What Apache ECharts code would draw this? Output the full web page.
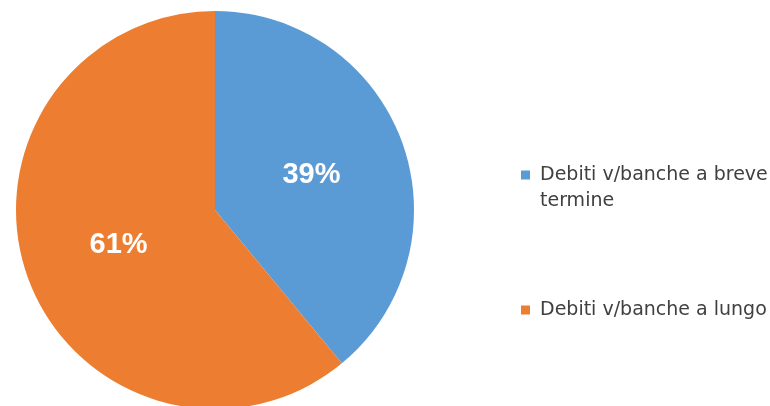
<!DOCTYPE html>
<html>
<head>
<meta charset="utf-8">
<style>html,body{margin:0;padding:0;background:#fff;}#c{width:770px;height:406px;}</style>
<script src="https://cdn.jsdelivr.net/npm/echarts@6/dist/echarts.min.js"></script>
</head>
<body>
<div id="c"></div>
<script>
const categories = ['Debiti v/banche a breve termine', 'Debiti v/banche a lungo'];
const legendLabels = ['\nDebiti v/banche a breve\ntermine', 'Debiti v/banche a lungo'];
const shares = [39, 61];
const colors = ['#5B9BD5', '#ED7D31'];

const chart = echarts.init(document.getElementById('c'), null, {renderer: 'canvas'});
const legendText = {color: '#404040', fontFamily: 'DejaVu Sans', fontSize: 19, lineHeight: 26};
const squareIcon = 'path://M0,0H9V9H0Z M14,0L14,0.01';
function legendFmt(n) { return legendLabels[categories.indexOf(n)]; }
chart.setOption({
  animation: false,
  color: colors,
  legend: [
    {
      left: 521, top: 136, padding: 0, orient: 'vertical', icon: squareIcon, itemWidth: 14, itemHeight: 9,
      selectedMode: false,
      data: [categories[0]],
      formatter: legendFmt,
      textStyle: legendText
    },
    {
      left: 521, top: 297, padding: 0, orient: 'vertical', icon: squareIcon, itemWidth: 14, itemHeight: 9,
      selectedMode: false,
      data: [categories[1]],
      formatter: legendFmt,
      textStyle: legendText
    }
  ],
  series: [{
    type: 'pie',
    center: [215, 210],
    radius: [0, 199],
    startAngle: 90,
    clockwise: true,
    label: {
      show: true,
      position: 'inside',
      formatter: function (p) { return p.value + '%'; },
      color: '#fff',
      fontFamily: 'Liberation Sans',
      fontWeight: 'bold',
      fontSize: 29
    },
    labelLine: {show: false},
    itemStyle: {borderWidth: 0},
    emphasis: {disabled: true},
    data: categories.map(function (c, i) { return {name: c, value: shares[i]}; })
  }]
});
</script>
</body>
</html>
